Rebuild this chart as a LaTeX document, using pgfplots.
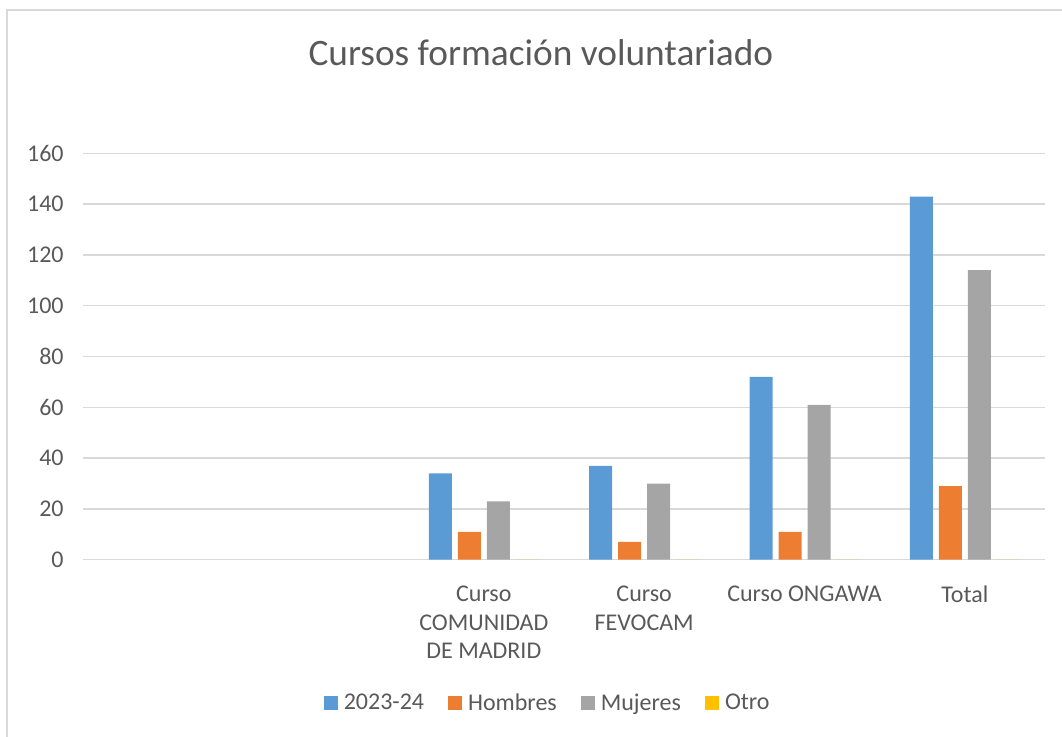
\documentclass[border=0pt]{standalone}
\usepackage{pgfplots}
\pgfplotsset{compat=1.18}
\usepackage{fontspec}
\setmainfont{Carlito}
\definecolor{cblue}{HTML}{5B9BD5}
\definecolor{corange}{HTML}{ED7D31}
\definecolor{cgray}{HTML}{A5A5A5}
\definecolor{cyellow}{HTML}{FFC000}
\definecolor{ctext}{HTML}{595959}
\definecolor{cgrid}{HTML}{D9D9D9}
\begin{document}
\begin{tikzpicture}
\useasboundingbox (-62.25pt,-132.2pt) rectangle (734.25pt,419.8pt);
\draw[cgrid, line width=1.5pt] (-57pt,-200pt) -- (-57pt,412.6pt) -- (800pt,412.6pt);
\begin{axis}[
  at={(0pt,0pt)}, anchor=south west,
  scale only axis, width=721.5pt, height=304.8pt,
  xmin=-0.5, xmax=5.5, ymin=0, ymax=160,
  ybar=4.5pt, bar width=17.25pt,
  axis line style={draw=none},
  ymajorgrids, grid style={cgrid, line width=1.1pt},
  major tick length=0pt,
  xtick={2,3,4,5},
  xticklabels={{Curso\\COMUNIDAD\\DE MADRID},{Curso\\FEVOCAM},{Curso ONGAWA},{Total}},
  ytick={0,20,...,160},
  tick label style={font=\fontsize{18}{21.6}\selectfont, text=ctext},
  xticklabel style={align=center, yshift=-16pt},
  yticklabel style={xshift=-11pt},
  /pgf/number format/assume math mode=true,
  title={Cursos formación voluntariado},
  title style={at={(0.476,1.229)}, anchor=center, font=\fontsize{28}{33}\selectfont, text=ctext},
  legend columns=4,
  legend style={at={(0.482,-0.3526)}, anchor=center, draw=none, fill=none,
    font=\fontsize{18}{21.6}\selectfont, text=ctext,
    nodes={inner xsep=0pt},
    /tikz/every odd column/.append style={column sep=4.5pt},
    /tikz/every even column/.append style={column sep=18pt}},
  legend image code/.code={\fill[#1] (0pt,-5pt) rectangle (10.5pt,5pt);},
]
\addplot[fill=cblue, draw=none] coordinates {(2,34) (3,37) (4,72) (5,143)};
\addplot[fill=corange, draw=none] coordinates {(2,11) (3,7) (4,11) (5,29)};
\addplot[fill=cgray, draw=none] coordinates {(2,23) (3,30) (4,61) (5,114)};
\addplot[fill=cyellow, draw=none] coordinates {(2,0) (3,0) (4,0) (5,0)};
\legend{2023-24, Hombres, Mujeres, Otro}
\end{axis}
\end{tikzpicture}
\end{document}
